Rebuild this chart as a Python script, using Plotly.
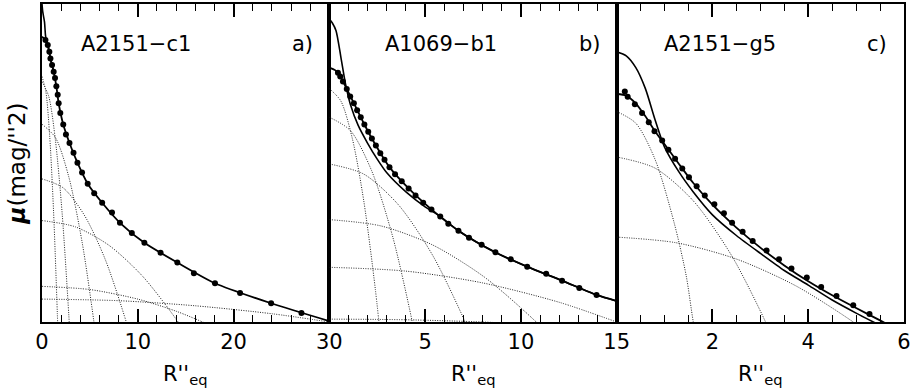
import plotly.graph_objects as go
from plotly.subplots import make_subplots

# ---- panel a) A2151-c1 ----
a_r = [0.36, 0.6, 0.77, 0.88, 1.05, 1.22, 1.36, 1.5, 1.64, 1.74, 1.91, 2.22, 2.5, 2.87,
       3.29, 3.7, 4.18, 4.77, 5.45, 6.28, 7.31, 8.14, 9.38, 10.69, 12.38, 14.13, 15.86,
       18.06, 20.68, 23.92, 27.09]
a_mu = [15.13, 15.29, 15.50, 15.71, 15.92, 16.13, 16.33, 16.59, 16.85, 17.12, 17.43, 17.79,
        18.10, 18.37, 18.68, 18.99, 19.30, 19.65, 19.95, 20.25, 20.56, 20.88, 21.20, 21.51,
        21.82, 22.13, 22.47, 22.78, 23.09, 23.41, 23.72]
a_model_r = [0, 0.36, 0.6, 0.88, 1.22, 1.5, 1.74, 2.22, 2.87, 3.7, 4.77, 6.28, 8.14, 10.69,
             14.13, 18.06, 23.92, 30]
a_model_mu = [15.03, 15.13, 15.29, 15.71, 16.13, 16.59, 17.12, 17.79, 18.37, 18.99, 19.65,
              20.25, 20.88, 21.51, 22.13, 22.78, 23.41, 23.97]
a_intr_r = [0, 0.08, 0.26, 0.36, 0.5, 0.6, 0.88, 1.22]
a_intr_mu = [14.00, 14.25, 14.56, 14.97, 15.24, 15.29, 15.71, 16.13]
a_comp_r = [[0, 0.4, 0.8, 1.2, 1.6, 1.8],
            [0, 0.7, 1.4, 2.1, 2.8, 3.1],
            [0, 1.4, 2.8, 4.2, 5.4, 6.0],
            [0, 2.2, 4.4, 6.6, 8.8, 9.6],
            [0, 3.5, 7, 10.5, 14, 15.5],
            [0, 5, 10, 14, 17, 18],
            [0, 8, 16, 24, 30]]
a_comp_mu = [[16.28, 16.75, 18.14, 20.47, 23.72, 25.69],
             [16.44, 16.90, 18.28, 20.57, 23.79, 25.45],
             [17.78, 18.20, 19.44, 21.51, 23.95, 25.40],
             [19.50, 19.78, 20.63, 22.03, 24.00, 24.86],
             [20.81, 21.01, 21.59, 22.56, 23.91, 24.61],
             [22.88, 22.98, 23.28, 23.66, 24.03, 24.17],
             [23.28, 23.33, 23.49, 23.74, 24.00]]

# ---- panel b) A1069-b1 ----
b_r = [0.45, 0.57, 0.71, 0.91, 1.09, 1.28, 1.45, 1.64, 1.83, 2.03, 2.22, 2.43, 2.66, 2.88,
       3.14, 3.43, 3.78, 4.14, 4.5, 4.9, 5.33, 5.79, 6.21, 6.74, 7.29, 7.95, 8.67, 9.47,
       10.33, 11.32, 12.15, 13.05, 13.95]
b_mu = [16.16, 16.28, 16.44, 16.67, 16.91, 17.12, 17.34, 17.56, 17.79, 18.02, 18.23, 18.45,
        18.69, 18.90, 19.13, 19.35, 19.57, 19.80, 20.02, 20.25, 20.46, 20.68, 20.91, 21.13,
        21.35, 21.57, 21.81, 22.03, 22.26, 22.48, 22.70, 22.93, 23.15]
b_model_r = [0, 0.3, 0.57, 0.91, 1.28, 1.83, 2.43, 3.14, 4.14, 5.33, 6.74, 8.67, 10.33,
             12.15, 13.95, 15]
b_model_mu = [16.00, 16.08, 16.28, 16.67, 17.12, 17.79, 18.45, 19.13, 19.80, 20.46, 21.13,
              21.81, 22.26, 22.70, 23.15, 23.34]
b_intr_r = [0, 0.15, 0.35, 0.6, 0.85, 1.1, 1.5, 2.0, 2.5, 3.0, 4.0, 5.0, 5.79, 6.74, 8.67,
            10.33, 12.15, 13.95, 15]
b_intr_mu = [14.47, 14.59, 14.84, 15.66, 16.53, 17.16, 17.81, 18.38, 18.88, 19.31, 19.91,
             20.38, 20.68, 21.13, 21.81, 22.26, 22.70, 23.15, 23.34]
b_comp_r = [[0, 0.6, 1.2, 1.8, 2.4, 2.8],
            [0, 1.1, 2.2, 3.3, 4.3, 4.8],
            [0, 1.8, 3.6, 5.4, 7.1, 7.8],
            [0, 2.7, 5.4, 8.1, 10.8, 11.8],
            [0, 4, 8, 12, 15],
            [0, 4, 8, 9]]
b_comp_mu = [[16.66, 17.05, 18.23, 20.20, 22.96, 25.23],
             [17.56, 17.98, 19.23, 21.30, 23.91, 25.48],
             [19.03, 19.35, 20.31, 21.91, 24.01, 25.04],
             [20.78, 20.98, 21.58, 22.59, 24.00, 24.63],
             [22.28, 22.40, 22.77, 23.38, 24.00],
             [23.91, 23.93, 24.00, 24.03]]

# ---- panel c) A2151-g5 ----
c_r = [0.17, 0.23, 0.38, 0.53, 0.67, 0.79, 0.95, 1.08, 1.22, 1.37, 1.51, 1.67, 1.84, 2.04,
       2.24, 2.41, 2.63, 2.84, 3.13, 3.39, 3.65, 3.97, 4.27, 4.59, 4.94, 5.28, 5.71]
c_mu = [16.75, 16.92, 17.15, 17.43, 17.72, 18.00, 18.29, 18.58, 18.87, 19.17, 19.45, 19.73,
        20.02, 20.30, 20.58, 20.88, 21.16, 21.45, 21.75, 22.03, 22.32, 22.60, 22.90, 23.18,
        23.47, 23.75, 24.04]
c_model_r = [0, 0.2, 0.4, 0.6, 0.8, 1.0, 1.3, 1.6, 2.0, 2.5, 3.0, 3.5, 4.0, 4.5, 5.0, 5.5, 5.6]
c_model_mu = [16.83, 16.88, 17.13, 17.53, 18.00, 18.41, 19.03, 19.63, 20.31, 21.03, 21.66,
              22.22, 22.72, 23.16, 23.56, 23.95, 24.03]
c_intr_r = [0, 0.2, 0.4, 0.6, 0.8, 1.0, 1.3, 1.6, 2.0, 2.5, 3.0, 3.5, 4.0, 4.5, 5.0, 5.4]
c_intr_mu = [15.50, 15.63, 16.00, 16.66, 17.63, 18.50, 19.28, 19.91, 20.63, 21.28, 21.84,
             22.38, 22.84, 23.31, 23.72, 24.03]
c_comp_r = [[0, 0.4, 0.8, 1.2, 1.45, 1.6, 1.75],
            [0, 0.8, 1.6, 2.4, 3.1, 3.4],
            [0, 1.25, 2.5, 3.75, 4.94, 5.4]]
c_comp_mu = [[17.38, 17.75, 18.88, 20.88, 22.53, 24.00, 25.19],
             [18.81, 19.16, 20.19, 21.91, 23.97, 25.03],
             [21.33, 21.51, 22.02, 22.87, 24.00, 24.53]]

names = ["A2151\u2212c1", "A1069\u2212b1", "A2151\u2212g5"]
letters = ["a)", "b)", "c)"]

FONT = "DejaVu Sans"

fig = make_subplots(rows=1, cols=3, horizontal_spacing=0)

panels = [
    (a_r, a_mu, a_model_r, a_model_mu, a_intr_r, a_intr_mu, a_comp_r, a_comp_mu),
    (b_r, b_mu, b_model_r, b_model_mu, b_intr_r, b_intr_mu, b_comp_r, b_comp_mu),
    (c_r, c_mu, c_model_r, c_model_mu, c_intr_r, c_intr_mu, c_comp_r, c_comp_mu),
]

for i, (r, mu, mr, mm, ir, im, cr, cm) in enumerate(panels):
    col = i + 1
    for xr, ym in zip(cr, cm):
        fig.add_trace(go.Scatter(x=xr, y=ym, mode="lines",
                                 line=dict(color="#222", width=1, dash="1px,1.4px",
                                           shape="spline", smoothing=0.8),
                                 hoverinfo="skip"), row=1, col=col)
    fig.add_trace(go.Scatter(x=ir, y=im, mode="lines",
                             line=dict(color="black", width=1.6, shape="spline",
                                       smoothing=0.7)), row=1, col=col)
    fig.add_trace(go.Scatter(x=mr, y=mm, mode="lines",
                             line=dict(color="black", width=1.8, shape="spline",
                                       smoothing=0.7)), row=1, col=col)
    fig.add_trace(go.Scatter(x=r, y=mu, mode="markers", cliponaxis=False,
                             marker=dict(color="black", size=6)), row=1, col=col)

# axes
xspec = [
    dict(range=[0, 30], tickvals=[0, 10, 20, 30], ticktext=["0", "10", "20", "30"],
         minor=[2, 4, 6, 8, 12, 14, 16, 18, 22, 24, 26, 28]),
    dict(range=[0, 15], tickvals=[0, 5, 10, 15], ticktext=["", "5", "10", "15"],
         minor=[1, 2, 3, 4, 6, 7, 8, 9, 11, 12, 13, 14]),
    dict(range=[0, 6], tickvals=[0, 2, 4, 6], ticktext=["", "2", "4", "6"],
         minor=[0.5, 1, 1.5, 2.5, 3, 3.5, 4.5, 5, 5.5]),
]
for i, s in enumerate(xspec):
    fig.update_xaxes(range=s["range"], tickmode="array", tickvals=s["tickvals"],
                     ticktext=s["ticktext"], ticks="inside", ticklen=13, tickwidth=1.5,
                     tickcolor="black", showline=True, linewidth=1.6, linecolor="black",
                     mirror="allticks", showgrid=False, zeroline=False,
                     tickfont=dict(family=FONT, size=21, color="black"),
                     minor=dict(tickmode="array", tickvals=s["minor"], ticks="inside",
                                ticklen=7, tickwidth=1, tickcolor="black", showgrid=False),
                     row=1, col=i + 1)
    fig.update_yaxes(range=[24, 14], showticklabels=False, ticks="", showline=True,
                     linewidth=1.6, linecolor="black", mirror=True, showgrid=False,
                     zeroline=False, row=1, col=i + 1)

fig.update_yaxes(title=dict(text="<b><i>\u03bc</i></b>(mag/''2)", standoff=8,
                            font=dict(family=FONT, size=23, color="black")),
                 row=1, col=1)

ann = []
name_x = [0.1096, 0.4627, 0.7865]
letter_x = [0.302, 0.636, 0.969]
for i in range(3):
    ann.append(dict(text=names[i], x=name_x[i], y=0.875, xref="paper", yref="paper",
                    xanchor="center", yanchor="middle", showarrow=False,
                    font=dict(family=FONT, size=21, color="black")))
    ann.append(dict(text=letters[i], x=letter_x[i], y=0.875, xref="paper", yref="paper",
                    xanchor="center", yanchor="middle", showarrow=False,
                    font=dict(family=FONT, size=21, color="black")))
    ann.append(dict(text="R''<sub>eq</sub>", x=(2 * i + 1) / 6, y=-0.166, xref="paper",
                    yref="paper", showarrow=False, xanchor="center", yanchor="middle",
                    font=dict(family=FONT, size=21, color="black")))

fig.update_layout(width=919, height=389, margin=dict(l=42, r=6, t=2, b=67),
                  plot_bgcolor="white", paper_bgcolor="white", showlegend=False,
                  annotations=ann)

fig.write_html("out.html", config={"displayModeBar": False},
               post_script="document.body.style.margin='0';document.body.style.overflow='hidden';")
